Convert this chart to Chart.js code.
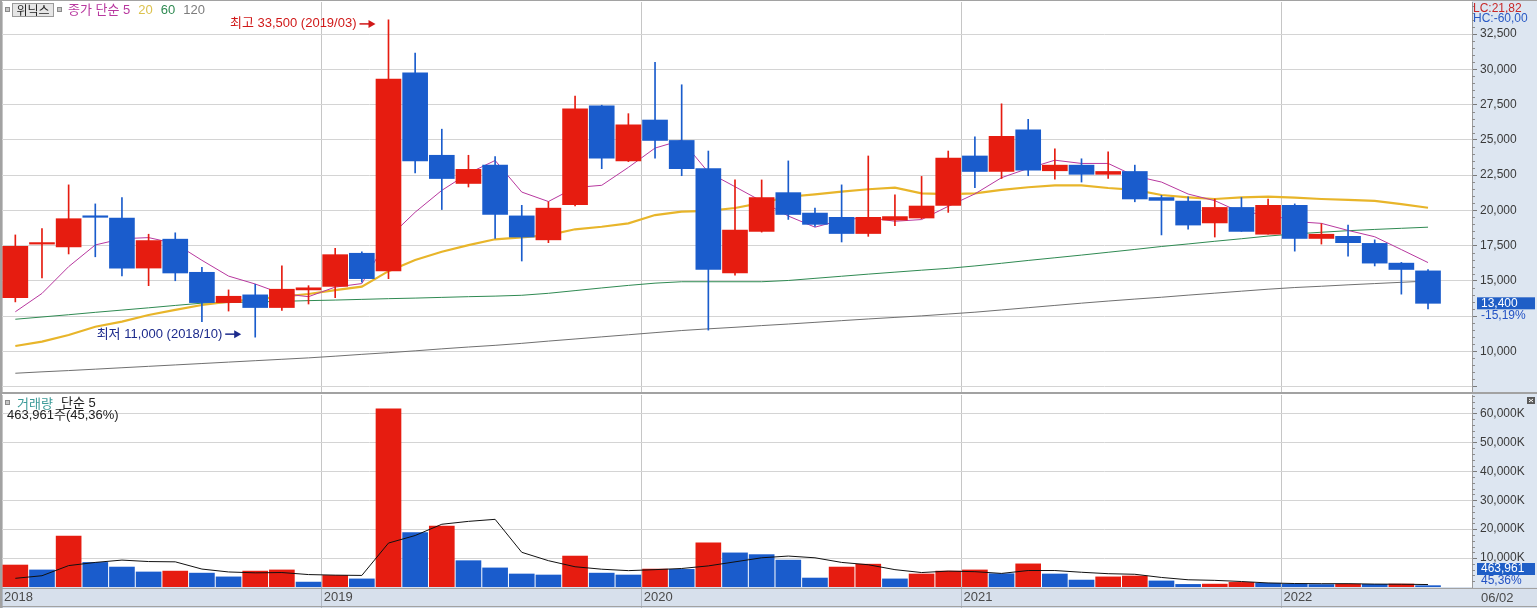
<!DOCTYPE html>
<html lang="ko">
<head>
<meta charset="utf-8">
<title>위닉스 월봉</title>
<script src="https://cdn.jsdelivr.net/npm/chart.js@4.4.1/dist/chart.umd.min.js"></script>
<style>
  html, body { margin: 0; padding: 0; background: #fff; }
  #wrap { position: relative; width: 1537px; height: 608px; overflow: hidden; }
  canvas { position: absolute; left: 0; }
  #priceChart { top: 0; }
  #volumeChart { top: 392px; }
</style>
</head>
<body>
<div id="wrap">
  <canvas id="priceChart" width="1537" height="392"></canvas>
  <canvas id="volumeChart" width="1537" height="216"></canvas>
</div>
<script>
/* ================================
   Data (monthly, 2018/01 - 2022/06)
================================ */
const months = [
  "2018/01","2018/02","2018/03","2018/04","2018/05","2018/06","2018/07","2018/08","2018/09","2018/10","2018/11","2018/12",
  "2019/01","2019/02","2019/03","2019/04","2019/05","2019/06","2019/07","2019/08","2019/09","2019/10","2019/11","2019/12",
  "2020/01","2020/02","2020/03","2020/04","2020/05","2020/06","2020/07","2020/08","2020/09","2020/10","2020/11","2020/12",
  "2021/01","2021/02","2021/03","2021/04","2021/05","2021/06","2021/07","2021/08","2021/09","2021/10","2021/11","2021/12",
  "2022/01","2022/02","2022/03","2022/04","2022/05","2022/06"
];

const openPrices = [
  13800, 17600, 17400, 19550, 19450, 15900, 17950, 15600, 13450, 14000, 13100, 14350,
  14600, 16950, 15700, 29750, 23900, 21900, 23200, 19600, 17900, 20400, 27400, 23500,
  26400, 24950, 22950, 15550, 18500, 21250, 19800, 19500, 18350, 19300, 19450, 20350,
  23850, 22750, 25700, 22800, 23200, 22550, 22750, 20900, 20650, 19100, 20200, 18300,
  20350, 18000, 18150, 17650, 16250, 15700
];
const highPrices = [
  18250, 18700, 21800, 20450, 20900, 18300, 18400, 15950, 14350, 14750, 16050, 14650,
  17300, 17050, 33500, 31150, 25750, 23900, 23800, 20350, 20600, 28100, 27450, 26850,
  30500, 28900, 24200, 22150, 22150, 23500, 20150, 21800, 23850, 21100, 22400, 24200,
  25200, 27550, 26450, 24350, 23650, 24150, 23200, 21050, 20950, 20800, 20900, 20800,
  20450, 19050, 18950, 17900, 16300, 15800
];
const lowPrices = [
  13500, 15200, 16900, 16700, 15350, 14650, 15000, 12100, 12850, 11000, 12900, 13350,
  13800, 14900, 15150, 22650, 20050, 21650, 18000, 16400, 17700, 20300, 22950, 23450,
  23700, 22450, 11500, 15400, 18450, 19350, 18850, 17750, 18150, 18900, 19400, 19850,
  21600, 22250, 22450, 22200, 22000, 22250, 20600, 18250, 18650, 18100, 18500, 18300,
  17100, 17600, 16750, 16050, 14050, 13000
];
const closePrices = [
  17450, 17650, 19400, 19500, 15900, 17850, 15550, 13450, 13900, 13100, 14400, 14500,
  16850, 15150, 29300, 23500, 22250, 22900, 19700, 18100, 20150, 27200, 23700, 26050,
  24950, 22950, 15800, 18600, 20900, 19700, 19000, 18350, 19500, 19550, 20300, 23700,
  22750, 25250, 22850, 23200, 22550, 22750, 20800, 20700, 18950, 20200, 18500, 20350,
  18000, 18300, 17700, 16250, 15800, 13400
];

const ma5 = [
  12800, 14100, 16000, 17540, 17980, 18060, 17640, 16450, 15330, 14770, 14080, 13870,
  14550, 14800, 18040, 19860, 21410, 22620, 23530, 21290, 20620, 21610, 21770, 23040,
  24410, 24970, 22690, 21670, 20640, 19590, 18800, 19310, 19490, 19220, 19340, 20280,
  21160, 22310, 22970, 23550, 23320, 23320, 22430, 22000, 21150, 20680, 19830, 19740,
  19200, 19070, 18570, 18120, 17210, 16290
];
const ma20 = [
  10370, 10680, 11150, 11740, 12100, 12570, 12930, 13280, 13520, 13680, 13870, 14060,
  14340, 14580, 15680, 16470, 17060, 17530, 17940, 18080, 18240, 18650, 18830, 19070,
  19660, 19900, 19960, 20160, 20520, 20960, 21130, 21320, 21490, 21600, 21200, 21150,
  21200, 21440, 21630, 21770, 21770, 21580, 21440, 21080, 20920, 20800, 20920, 20960,
  20890, 20800, 20730, 20660, 20440, 20180
];
const ma60 = [
  12270, 12430, 12590, 12760, 12920, 13080, 13250, 13410, 13450, 13500, 13540, 13590,
  13630, 13680, 13730, 13770, 13820, 13870, 13910, 13970, 14110, 14300, 14490, 14670,
  14830, 14930, 14930, 14930, 14930, 15020, 15170, 15320, 15470, 15610, 15750, 15880,
  16050, 16240, 16440, 16630, 16820, 17020, 17220, 17430, 17610, 17800, 17980, 18170,
  18320, 18440, 18550, 18640, 18720, 18800
];
const ma120 = [
  8440, 8540, 8630, 8730, 8830, 8930, 9030, 9130, 9230, 9330, 9430, 9530,
  9650, 9780, 9900, 10030, 10170, 10300, 10420, 10560, 10720, 10870, 11020, 11170,
  11320, 11470, 11590, 11700, 11820, 11930, 12050, 12170, 12290, 12400, 12510, 12640,
  12770, 12930, 13090, 13250, 13410, 13560, 13700, 13830, 13980, 14120, 14260, 14400,
  14520, 14610, 14710, 14800, 14890, 14980
];

// shares
const volumes = [
  7600000, 5900000, 17600000, 8500000, 6900000, 5200000, 5500000, 4800000, 3500000, 5500000, 5900000, 1700000,
  4000000, 2800000, 61600000, 18800000, 21100000, 9100000, 6600000, 4500000, 4150000, 10700000, 4800000, 4150000,
  6200000, 6100000, 15300000, 11800000, 11200000, 9300000, 3100000, 6900000, 7900000, 2800000, 4500000, 5500000,
  5900000, 4600000, 8000000, 4500000, 2400000, 3500000, 3800000, 2100000, 900000, 1000000, 1600000, 1300000,
  1000000, 850000, 1000000, 920000, 1022850, 463961
];
const volumeMa5 = [
  3000000, 3900000, 7400000, 8500000, 9300000, 8800000, 8700000, 6200000, 5200000, 4900000, 5000000, 4300000,
  4100000, 4000000, 15200000, 17800000, 21700000, 22700000, 23400000, 12000000, 9100000, 7000000, 6150000, 5660000,
  6000000, 6400000, 7300000, 8700000, 10100000, 10700000, 10100000, 8500000, 7700000, 6000000, 5000000, 5500000,
  5300000, 4700000, 5700000, 5700000, 5100000, 4600000, 4400000, 3300000, 2500000, 2300000, 1900000, 1400000,
  1200000, 1150000, 1150000, 1000000, 960000, 850000
];

const priceTicks = [7500, 10000, 12500, 15000, 17500, 20000, 22500, 25000, 27500, 30000, 32500];
const volumeTicks = [10000000, 20000000, 30000000, 40000000, 50000000, 60000000];
const yearLabels = ["2018", "2019", "2020", "2021", "2022"];
const lastDateLabel = "06/02";

/* ================================
   Look
================================ */
const UP = "#e61c10";
const DOWN = "#1a5ccc";
const MA5_COLOR = "#b8389f";
const MA20_COLOR = "#e8b52a";
const MA60_COLOR = "#2f8a52";
const MA120_COLOR = "#707070";
const GRID = "#d4d4d4";
const GRID_V = "#c6c6c6";
const FRAME = "#a2a2a2";
const AXIS_BG = "#dde6f1";
const BAND_BG = "#d7e0ec";

const NUM_FAMILY = '"Liberation Sans", "DejaVu Sans Condensed", sans-serif';
const MIX_FONT = '13px "Liberation Sans", "Noto Sans CJK KR", sans-serif';
const NUM_FONT = '12px ' + NUM_FAMILY;
const AXIS_FONT = { family: NUM_FAMILY, size: 12 };

const PRICE_MIN = 7110;
const PRICE_MAX = 34770;
const VOL_MAX = 66400000;
const X_MIN = -0.5;
const X_MAX = months.length + 0.65;

const yearStarts = months
  .map((m, i) => (m.endsWith("/01") ? i - 0.5 : null))
  .filter(v => v !== null);

let priceChart = null;
let volumeChart = null;

/* ================================
   Helpers
================================ */
const fmt = n => n.toLocaleString("en-US");
const fmtPct = p => p.toFixed(2).replace(".", ",");

function candleColor(c) {
  const i = c.dataIndex;
  return closePrices[i] >= openPrices[i] ? UP : DOWN;
}

function volumeColor(c) {
  const i = c.dataIndex;
  return i === 0 || volumes[i] >= volumes[i - 1] ? UP : DOWN;
}

function lineSet(label, values, color, width, order) {
  return {
    type: "line",
    label,
    data: values.map((v, i) => ({ x: i, y: v })),
    borderColor: color,
    borderWidth: width,
    pointRadius: 0,
    tension: 0,
    fill: false,
    order
  };
}

function text(ctx, str, x, y, color, font, align) {
  ctx.font = font || MIX_FONT;
  ctx.fillStyle = color;
  ctx.textAlign = align || "left";
  ctx.textBaseline = "middle";
  ctx.fillText(str, x, y);
}

function legendIcon(ctx, x, y) {
  ctx.fillStyle = "#c6c6c6";
  ctx.fillRect(x, y, 5, 5);
  ctx.strokeStyle = "#8a8a8a";
  ctx.lineWidth = 1;
  ctx.strokeRect(x + 0.5, y + 0.5, 4, 4);
}

function arrowNote(ctx, str, tipX, y, color) {
  text(ctx, str, tipX - 19, y, color, MIX_FONT, "right");
  ctx.strokeStyle = color;
  ctx.lineWidth = 1.5;
  ctx.beginPath();
  ctx.moveTo(tipX - 16, y);
  ctx.lineTo(tipX - 5, y);
  ctx.stroke();
  ctx.beginPath();
  ctx.moveTo(tipX, y);
  ctx.lineTo(tipX - 7, y - 4);
  ctx.lineTo(tipX - 7, y + 4);
  ctx.closePath();
  ctx.fill();
}

function minorTicks(ctx, scale, right, from, to, step, skip) {
  ctx.strokeStyle = "#8c8c8c";
  ctx.lineWidth = 1;
  ctx.beginPath();
  for (let v = from; v <= to; v += step) {
    if (v % skip === 0) continue;
    const py = Math.round(scale.getPixelForValue(v)) + 0.5;
    ctx.moveTo(right, py);
    ctx.lineTo(right + 3, py);
  }
  ctx.stroke();
}

// value tag on the axis: blue box with the number, percent below on axis colour
function axisTag(ctx, right, width, y, value, pct) {
  ctx.fillStyle = AXIS_BG;
  ctx.fillRect(right + 5, y + 6, width - right - 7, 12);
  ctx.fillStyle = "#1f5ec6";
  ctx.fillRect(right + 5, y - 6, width - right - 7, 12);
  text(ctx, value, right + 9, y, "#fff", NUM_FONT);
  text(ctx, pct, right + 9, y + 12, "#2352c4", NUM_FONT);
}

/* ================================
   Price panel chrome
================================ */
const priceChrome = {
  id: "priceChrome",
  beforeDraw(chart) {
    const { ctx, chartArea: a, width, height } = chart;
    ctx.save();
    ctx.fillStyle = "#fff";
    ctx.fillRect(0, 0, width, height);
    ctx.fillStyle = AXIS_BG;
    ctx.fillRect(a.right, 0, width - a.right, height);
    ctx.restore();
  },
  afterDraw(chart) {
    const { ctx, chartArea: a, width, height, scales } = chart;
    const x = scales.x, y = scales.y;
    ctx.save();

    minorTicks(ctx, y, a.right, 7500, PRICE_MAX, 500, 2500);

    ctx.fillStyle = FRAME;
    ctx.fillRect(0, 0, width, 1);
    ctx.fillRect(0, 0, 2, height);

    // legend
    legendIcon(ctx, 5, 7);
    ctx.fillStyle = "#e6e6e6";
    ctx.fillRect(12, 3, 41, 14);
    ctx.strokeStyle = "#9a9a9a";
    ctx.strokeRect(12.5, 3.5, 41, 13);
    text(ctx, "위닉스", 33, 10.5, "#222", '12px "Noto Sans CJK KR", sans-serif', "center");
    legendIcon(ctx, 57, 7);
    let cx = 68;
    [["종가 단순 5", MA5_COLOR], ["20", "#dcc24e"], ["60", MA60_COLOR], ["120", "#7c7c7c"]].forEach(([t, c]) => {
      text(ctx, t, cx, 10.5, c);
      cx += ctx.measureText(t).width + 8;
    });

    // highest / lowest notes
    const iMax = highPrices.indexOf(Math.max(...highPrices));
    const iMin = lowPrices.indexOf(Math.min(...lowPrices));
    const hx = x.getPixelForValue(iMax), hy = y.getPixelForValue(highPrices[iMax]);
    const lx = x.getPixelForValue(iMin), ly = y.getPixelForValue(lowPrices[iMin]);
    arrowNote(ctx, `최고 ${fmt(highPrices[iMax])} (${months[iMax]})`, hx - 13, hy + 4, "#d01818");
    arrowNote(ctx, `최저 ${fmt(lowPrices[iMin])} (${months[iMin]})`, lx - 14, ly - 3, "#1c2a8c");

    // right side info
    text(ctx, "LC:21,82", a.right + 1, 8.5, "#c82828", NUM_FONT);
    text(ctx, "HC:-60,00", a.right + 1, 19, "#2a5ac4", NUM_FONT);

    const last = closePrices[closePrices.length - 1];
    const prev = closePrices[closePrices.length - 2];
    axisTag(ctx, a.right, width, y.getPixelForValue(last), fmt(last), fmtPct((last / prev - 1) * 100) + "%");

    ctx.restore();
  }
};

/* ================================
   Volume panel chrome
================================ */
const volumeChrome = {
  id: "volumeChrome",
  beforeDraw(chart) {
    const { ctx, chartArea: a, width, height } = chart;
    ctx.save();
    ctx.fillStyle = "#fff";
    ctx.fillRect(0, 0, width, height);
    ctx.fillStyle = AXIS_BG;
    ctx.fillRect(a.right, 0, width - a.right, a.bottom);
    ctx.fillStyle = BAND_BG;
    ctx.fillRect(0, a.bottom, width, height - a.bottom);
    ctx.restore();
  },
  afterDraw(chart) {
    const { ctx, chartArea: a, width, height, scales } = chart;
    const y = scales.y;
    ctx.save();

    minorTicks(ctx, y, a.right, 2000000, VOL_MAX, 2000000, 10000000);

    ctx.fillStyle = FRAME;
    ctx.fillRect(0, 0, width, 2);
    ctx.fillRect(0, 0, 2, height);
    ctx.fillRect(0, a.bottom + 1, width, 1);
    ctx.fillRect(0, height - 2, width, 1);

    // legend
    legendIcon(ctx, 5, 8);
    text(ctx, "거래량", 17, 11, "#3b9a98", '13px "Noto Sans CJK KR", sans-serif');
    text(ctx, "단순 5", 61, 11, "#222");
    const last = volumes[volumes.length - 1];
    const prev = volumes[volumes.length - 2];
    const pct = fmtPct(last / prev * 100);
    text(ctx, `${fmt(last)}주(${pct}%)`, 7, 23, "#222");

    // close button
    ctx.fillStyle = "#5a5a5a";
    ctx.fillRect(width - 10, 5, 8, 7);
    ctx.strokeStyle = "#fff";
    ctx.beginPath();
    ctx.moveTo(width - 8, 7); ctx.lineTo(width - 4, 10);
    ctx.moveTo(width - 4, 7); ctx.lineTo(width - 8, 10);
    ctx.stroke();

    axisTag(ctx, a.right, width, 177, fmt(last), pct + "%");

    text(ctx, lastDateLabel, a.right + 9, a.bottom + 11, "#4a4a4a", '13px ' + NUM_FAMILY);

    ctx.restore();
  }
};

/* ================================
   Chart Renderers
================================ */
function renderPriceChart() {
  if (priceChart) priceChart.destroy();

  priceChart = new Chart(document.getElementById("priceChart"), {
    type: "bar",
    data: {
      datasets: [
        lineSet("MA120", ma120, MA120_COLOR, 1, 6),
        lineSet("MA60", ma60, MA60_COLOR, 1, 5),
        lineSet("MA20", ma20, MA20_COLOR, 2.2, 4),
        lineSet("MA5", ma5, MA5_COLOR, 1, 3),
        {
          type: "bar",
          label: "wick",
          data: months.map((m, i) => ({ x: i, y: [lowPrices[i], highPrices[i]] })),
          backgroundColor: candleColor,
          barThickness: 1,
          grouped: false,
          order: 2
        },
        {
          type: "bar",
          label: "body",
          data: months.map((m, i) => ({ x: i, y: [openPrices[i], closePrices[i]] })),
          backgroundColor: candleColor,
          barThickness: 25,
          minBarLength: 1.5,
          grouped: false,
          order: 1
        }
      ]
    },
    options: {
      responsive: false,
      animation: false,
      events: [],
      layout: { padding: { left: 2, top: 2, right: 0, bottom: 0 }, autoPadding: false },
      plugins: { legend: { display: false }, tooltip: { enabled: false } },
      scales: {
        x: {
          type: "linear",
          min: X_MIN,
          max: X_MAX,
          offset: false,
          afterBuildTicks: s => { s.ticks = yearStarts.map(value => ({ value })); },
          ticks: { display: false },
          grid: { color: GRID_V, drawTicks: false, offset: false },
          border: { display: false },
          afterFit: s => { s.height = 0; s.paddingLeft = 0; s.paddingRight = 0; }
        },
        y: {
          position: "right",
          min: PRICE_MIN,
          max: PRICE_MAX,
          afterBuildTicks: s => { s.ticks = priceTicks.map(value => ({ value })); },
          ticks: {
            callback: v => (v === priceTicks[0] ? "" : fmt(v)),
            color: "#3a3a3a",
            font: AXIS_FONT,
            padding: 3
          },
          grid: { color: GRID, tickColor: "#7a7a7a", tickLength: 5 },
          border: { color: "#9a9a9a" },
          afterFit: s => { s.width = 65; s.paddingTop = 0; s.paddingBottom = 0; }
        }
      }
    },
    plugins: [priceChrome]
  });
}

function renderVolumeChart() {
  if (volumeChart) volumeChart.destroy();

  volumeChart = new Chart(document.getElementById("volumeChart"), {
    type: "bar",
    data: {
      datasets: [
        lineSet("단순 5", volumeMa5, "#111", 1, 1),
        {
          type: "bar",
          label: "거래량",
          data: volumes.map((v, i) => ({ x: i, y: v })),
          backgroundColor: volumeColor,
          barThickness: 25,
          order: 2
        }
      ]
    },
    options: {
      responsive: false,
      animation: false,
      events: [],
      layout: { padding: { left: 2, top: 3, right: 0, bottom: 0 }, autoPadding: false },
      plugins: { legend: { display: false }, tooltip: { enabled: false } },
      scales: {
        x: {
          type: "linear",
          min: X_MIN,
          max: X_MAX,
          offset: false,
          afterBuildTicks: s => { s.ticks = yearStarts.map(value => ({ value })); },
          ticks: {
            callback: (v, i) => yearLabels[i],
            align: "start",
            labelOffset: 2,
            padding: -18,
            autoSkip: false,
            maxRotation: 0,
            color: "#4a4a4a",
            font: { family: NUM_FAMILY, size: 13 }
          },
          grid: { color: GRID_V, tickColor: "#b0b8c4", tickLength: 21, offset: false },
          border: { display: false },
          afterFit: s => { s.height = 21; s.paddingLeft = 0; s.paddingRight = 0; }
        },
        y: {
          position: "right",
          min: 0,
          max: VOL_MAX,
          afterBuildTicks: s => { s.ticks = volumeTicks.map(value => ({ value })); },
          ticks: {
            callback: v => fmt(v / 1000) + "K",
            color: "#3a3a3a",
            font: AXIS_FONT,
            padding: 3
          },
          grid: { color: GRID, tickColor: "#7a7a7a", tickLength: 5 },
          border: { color: "#9a9a9a" },
          afterFit: s => { s.width = 65; s.paddingTop = 0; s.paddingBottom = 0; }
        }
      }
    },
    plugins: [volumeChrome]
  });
}

/* ================================
   Init
================================ */
document.addEventListener("DOMContentLoaded", () => {
  renderPriceChart();
  renderVolumeChart();
});
</script>
</body>
</html>
